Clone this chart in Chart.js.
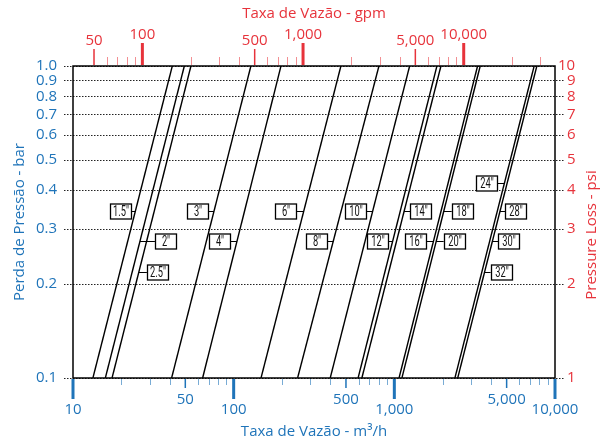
<!DOCTYPE html>
<html lang="pt">
<head>
  <meta charset="UTF-8" />
  <title>Perda de Pressão x Taxa de Vazão</title>
  <script src="https://cdn.jsdelivr.net/npm/chart.js"></script>
  <style>
    html, body { margin: 0; padding: 0; background: #fff; }
    #wrap { width: 606px; height: 442px; position: relative; }
  </style>
</head>
<body>
  <div id="wrap"><canvas id="lossChart"></canvas></div>

  <script>
    // one straight line per pipe size (log-log), given by the flow (m3/h)
    // where it crosses 0.1 bar and where it crosses 1.0 bar
    const lineNames = ['1.5"', '2"', '2.5"', '3"', '4"', '6"', '8"', '10"', '12"', '14"', '16"', '18"', '24"', '28"'];
    const flowAtLow  = [13.3, 15.9, 17.5, 41.1, 64.1, 148, 250, 399, 595, 628, 1070, 1115, 2383, 2480];
    const flowAtHigh = [41.5, 49.3, 54.2, 128, 197, 465, 802, 1245, 1841, 1950, 3296, 3423, 7418, 7709];
    const pressureEnds = [0.1, 1.0];

    // size tags: text, index of the line it points at, pressure (bar) where it sits
    const tagText = ['1.5"', '2"', '2.5"', '3"', '4"', '6"', '8"', '10"', '12"', '14"', '16"', '18"', '20"', '24"', '28"', '30"', '32"'];
    const tagLine = [0, 1, 2, 3, 4, 5, 6, 7, 8, 9, 10, 11, 11, 12, 13, 13, 13];
    const tagPressure = [0.342, 0.274, 0.219, 0.342, 0.274, 0.342, 0.274, 0.342, 0.274, 0.342, 0.274, 0.342, 0.274, 0.422, 0.342, 0.274, 0.219];

    // axis ticks
    const barTicks = [1.0, 0.9, 0.8, 0.7, 0.6, 0.5, 0.4, 0.3, 0.2, 0.1];
    const psiTicks = [10, 9, 8, 7, 6, 5, 4, 3, 2, 1];
    const m3hTicks = [10, 20, 30, 40, 50, 60, 70, 80, 90, 100, 200, 300, 400, 500, 600, 700, 800, 900,
                      1000, 2000, 3000, 4000, 5000, 6000, 7000, 8000, 9000, 10000];
    const gpmTicks = [50, 60, 70, 80, 90, 100, 200, 300, 400, 500, 600, 700, 800, 900,
                      1000, 2000, 3000, 4000, 5000, 6000, 7000, 8000, 9000, 10000, 20000, 30000];
    const labeledFlows = [10, 50, 100, 500, 1000, 5000, 10000];

    // look
    const blue = '#1f74b9';
    const red = '#e7333b';
    const blueLight = 'rgba(31,116,185,0.6)';
    const redLight = 'rgba(231,51,59,0.55)';
    const uiFont = '"Open Sans", "Noto Sans", sans-serif';
    const tagSide = ['L', 'R', 'R', 'L', 'L', 'L', 'L', 'L', 'L', 'R', 'L', 'R', 'R', 'L', 'R', 'R', 'R'];
    const tagGap = [4, 15, 8, 6, 7, 8, 6, 7, 4.5, 6, 7, 8, 7.5, 7, 5, 6, 6];

    function fmt(v) {
      return v.toLocaleString('en-US');
    }

    function tickKind(v) {
      const e = Math.log10(v);
      if (Math.abs(e - Math.round(e)) < 1e-9) return 'major';
      if (Math.round(v / Math.pow(10, Math.floor(e))) === 5) return 'mid';
      return 'minor';
    }

    function text(ctx, str, x, y, align, color, rot) {
      ctx.save();
      ctx.translate(x, y);
      if (rot) ctx.rotate(rot);
      ctx.font = '15px ' + uiFont;
      ctx.fillStyle = color;
      ctx.textAlign = align;
      ctx.textBaseline = 'middle';
      ctx.fillText(str, 0, 0);
      ctx.restore();
    }

    const framePlugin = {
      id: 'frame',
      beforeDatasetsDraw(chart) {
        const { ctx, chartArea: a, scales } = chart;
        ctx.save();
        ctx.strokeStyle = '#222';
        ctx.lineWidth = 1;
        ctx.setLineDash([1.5, 1.5]);
        barTicks.forEach(v => {
          const py = Math.round(scales.y.getPixelForValue(v)) + 0.5;
          const ext = v === 1.0 ? 0 : 9;
          ctx.beginPath();
          ctx.moveTo(a.left - 9, py);
          ctx.lineTo(a.right + ext, py);
          ctx.stroke();
        });
        ctx.restore();
      },
      afterDatasetsDraw(chart) {
        const { ctx, chartArea: a, scales } = chart;
        const x = scales.x, x2 = scales.x2, y = scales.y, y2 = scales.y2;

        // plot frame
        ctx.save();
        ctx.strokeStyle = '#000';
        ctx.lineWidth = 1.5;
        ctx.strokeRect(a.left, a.top, a.right - a.left, a.bottom - a.top);

        // bottom axis (m3/h)
        m3hTicks.forEach(v => {
          const k = tickKind(v);
          const px = x.getPixelForValue(v);
          const len = k === 'major' ? 20 : k === 'mid' ? 9 : 6;
          ctx.strokeStyle = k === 'minor' ? blueLight : blue;
          ctx.lineWidth = k === 'major' ? 3 : k === 'mid' ? 1.5 : 1;
          const sx = k === 'minor' ? Math.round(px) + 0.5 : px;
          ctx.beginPath();
          ctx.moveTo(sx, a.bottom + 1);
          ctx.lineTo(sx, a.bottom + 1 + len);
          ctx.stroke();
          if (labeledFlows.includes(v)) {
            text(ctx, fmt(v), px, k === 'major' ? 410 : 400, 'center', blue);
          }
        });

        // top axis (gpm)
        gpmTicks.forEach(v => {
          const k = tickKind(v);
          const px = x2.getPixelForValue(v);
          const len = k === 'major' ? 22 : k === 'mid' ? 16 : 8;
          ctx.strokeStyle = k === 'minor' ? redLight : red;
          ctx.lineWidth = k === 'major' ? 3 : k === 'mid' ? 1.5 : 1;
          const sx = k === 'minor' ? Math.round(px) + 0.5 : px;
          ctx.beginPath();
          ctx.moveTo(sx, a.top - 1);
          ctx.lineTo(sx, a.top - 1 - len);
          ctx.stroke();
          if (k !== 'minor') {
            text(ctx, fmt(v), px, k === 'major' ? 35 : 41, 'center', red);
          }
        });

        // left axis (bar) and right axis (psi)
        barTicks.forEach(v => {
          text(ctx, v.toFixed(1), a.left - 16, y.getPixelForValue(v), 'right', blue);
        });
        psiTicks.forEach(v => {
          text(ctx, String(v), a.right + (v === 10 ? 3 : 12), y2.getPixelForValue(v), 'left', red);
        });

        // axis titles
        const cx = (a.left + a.right) / 2;
        text(ctx, 'Taxa de Vazão - gpm', cx, 14, 'center', red);
        text(ctx, 'Taxa de Vazão - m³/h', cx, 432, 'center', blue);
        text(ctx, 'Perda de Pressão - bar', 20, (a.top + a.bottom) / 2, 'center', blue, -Math.PI / 2);
        text(ctx, 'Pressure Loss - psi', 592, 235, 'center', red, -Math.PI / 2);

        // size tags
        tagText.forEach((t, i) => {
          const li = tagLine[i];
          const p = tagPressure[i];
          const f = (Math.log10(p) - Math.log10(pressureEnds[0])) / (Math.log10(pressureEnds[1]) - Math.log10(pressureEnds[0]));
          const q = Math.pow(10, Math.log10(flowAtLow[li]) + f * (Math.log10(flowAtHigh[li]) - Math.log10(flowAtLow[li])));
          const px = x.getPixelForValue(q);
          const py = Math.round(y.getPixelForValue(p)) + 0.5;
          const w = 21, h = 15;
          const bx = tagSide[i] === 'L' ? px - tagGap[i] - w : px + tagGap[i];
          const edge = tagSide[i] === 'L' ? bx + w : bx;
          ctx.strokeStyle = '#000';
          ctx.lineWidth = 1;
          ctx.beginPath();
          ctx.moveTo(px, py);
          ctx.lineTo(edge, py);
          ctx.stroke();
          const rx = Math.round(bx) + 0.5, ry = Math.round(py - h / 2);
          ctx.fillStyle = '#fff';
          ctx.fillRect(rx, ry, w, h);
          ctx.lineWidth = 1.3;
          ctx.strokeRect(rx, ry, w, h);
          ctx.save();
          ctx.translate(rx + w / 2, ry + h / 2 + 0.5);
          ctx.scale(0.62, 1);
          ctx.font = '15px Roboto, "Noto Sans", sans-serif';
          ctx.fillStyle = '#111';
          ctx.textAlign = 'center';
          ctx.textBaseline = 'middle';
          ctx.fillText(t, 0, 0);
          ctx.restore();
        });
        ctx.restore();
      }
    };

    new Chart(document.getElementById('lossChart'), {
      type: 'scatter',
      data: {
        datasets: lineNames.map((name, i) => ({
          label: name,
          data: [
            { x: flowAtLow[i], y: pressureEnds[0] },
            { x: flowAtHigh[i], y: pressureEnds[1] }
          ],
          showLine: true,
          borderColor: '#000',
          borderWidth: 1.4,
          pointRadius: 0,
          fill: false
        }))
      },
      options: {
        responsive: true,
        maintainAspectRatio: false,
        animation: false,
        layout: { autoPadding: false, padding: { left: 73, right: 51, top: 66, bottom: 64 } },
        plugins: { legend: { display: false }, tooltip: { enabled: false } },
        scales: {
          x:  { type: 'logarithmic', position: 'bottom', min: 10, max: 10000, display: false },
          x2: { type: 'logarithmic', position: 'top', min: 37, max: 37000, display: false },
          y:  { type: 'logarithmic', position: 'left', min: 0.1, max: 1, display: false },
          y2: { type: 'logarithmic', position: 'right', min: 1, max: 10, display: false }
        }
      },
      plugins: [framePlugin]
    });
  </script>
</body>
</html>
